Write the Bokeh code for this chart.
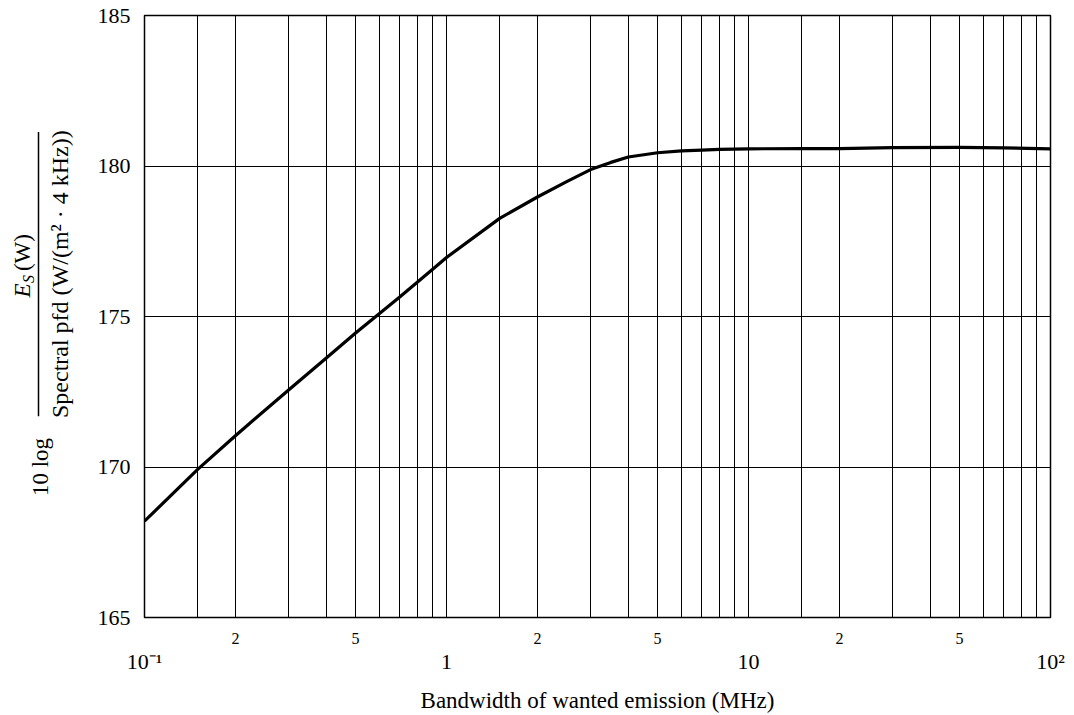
import math
from bokeh.plotting import figure
from bokeh.models import FixedTicker, Range1d, LogAxis
from bokeh.layouts import row
from bokeh.embed import file_html
from bokeh.resources import INLINE
from bokeh.core.properties import value

FONT = "Liberation Serif"

# ---- data ----
bandwidth_mhz = [0.1, 0.15, 0.2, 0.3, 0.4, 0.5, 0.6, 0.7, 0.8, 0.9, 1.0,
                 1.5, 2.0, 2.5, 3.0, 3.5, 4.0, 5.0, 6.0, 7.0, 8.0, 10.0,
                 15.0, 20.0, 30.0, 50.0, 70.0, 100.0]
es_over_pfd_db = [168.2, 169.92, 171.04, 172.56, 173.62, 174.45, 175.1, 175.65, 176.14, 176.57, 176.96,
                  178.26, 178.97, 179.48, 179.88, 180.12, 180.30, 180.44, 180.50, 180.53, 180.55, 180.57,
                  180.58, 180.58, 180.61, 180.62, 180.60, 180.57]

y_ticks = [165, 170, 175, 180, 185]
x_grid = [0.1, 0.15, 0.2, 0.3, 0.4, 0.5, 0.6, 0.7, 0.8, 0.9,
          1, 1.5, 2, 3, 4, 5, 6, 7, 8, 9,
          10, 15, 20, 30, 40, 50, 60, 70, 80, 90, 100]
minor_label_ticks = [0.2, 0.5, 2, 5, 20, 50]
minor_label_text = ["2", "5", "2", "5", "2", "5"]
major_ticks = [0.1, 1, 10, 100]
major_label_text = ["10\u207b\u00b9", "1", "10", "10\u00b2"]
x_title = "Bandwidth of wanted emission (MHz)"
y_title_prefix = "10 log"
y_num_main = "E"
y_num_sub = "S"
y_num_rest = "(W)"
y_den = "Spectral pfd (W/(m\u00b2 \u00b7 4 kHz))"

H = 715
TOP = 15
BOTTOM_BORDER = 96
LEFT_W = 88

# ---- main plot ----
p = figure(width=986, height=H, x_axis_type="log",
           x_range=Range1d(0.1, 100), y_range=Range1d(165, 185),
           output_backend="svg", toolbar_location=None,
           min_border_left=56, min_border_right=24, min_border_top=TOP,
           min_border_bottom=BOTTOM_BORDER)
p.background_fill_color = "white"
p.border_fill_color = "white"
p.outline_line_color = "black"
p.outline_line_width = 1.5

p.xgrid.ticker = FixedTicker(ticks=x_grid)
p.ygrid.ticker = FixedTicker(ticks=y_ticks)
p.grid.grid_line_color = "black"
p.grid.grid_line_width = 1
p.grid.grid_line_alpha = 1.0

p.yaxis.ticker = FixedTicker(ticks=y_ticks)
p.yaxis.axis_line_color = None
p.yaxis.major_tick_line_color = None
p.yaxis.minor_tick_line_color = None
p.yaxis.major_tick_out = 0
p.yaxis.major_tick_in = 0
p.yaxis.major_label_standoff = 14
p.yaxis.major_label_text_font = FONT
p.yaxis.major_label_text_font_size = "22px"
p.yaxis.major_label_text_color = "black"

# inner bottom axis: 2 / 5 sub-decade labels
p.xaxis.ticker = FixedTicker(ticks=minor_label_ticks)
p.xaxis.major_label_overrides = {t: s for t, s in zip(minor_label_ticks, minor_label_text)}
p.xaxis.axis_line_color = None
p.xaxis.major_tick_line_color = None
p.xaxis.minor_tick_line_color = None
p.xaxis.major_tick_out = 0
p.xaxis.major_tick_in = 0
p.xaxis.major_label_standoff = 15
p.xaxis.major_label_text_font = FONT
p.xaxis.major_label_text_font_size = "16px"
p.xaxis.major_label_text_color = "black"

# outer bottom axis: decade labels + title
ax2 = LogAxis(ticker=FixedTicker(ticks=major_ticks),
              major_label_overrides={t: s for t, s in zip(major_ticks, major_label_text)},
              axis_line_color=None, major_tick_line_color=None, minor_tick_line_color=None,
              major_tick_out=0, major_tick_in=0, major_label_standoff=2,
              major_label_text_font=FONT, major_label_text_font_size="22px",
              major_label_text_color="black",
              axis_label=x_title, axis_label_text_font=FONT, axis_label_text_font_size="23px",
              axis_label_text_font_style="normal", axis_label_text_color="black",
              axis_label_standoff=11)
p.add_layout(ax2, "below")

p.line(bandwidth_mhz, es_over_pfd_db, line_color="black", line_width=3.2, line_join="round")

# ---- y-axis title panel (rotated fraction), coordinates in page pixels ----
q = figure(width=LEFT_W, height=H, x_range=Range1d(0, LEFT_W), y_range=Range1d(-(H - BOTTOM_BORDER), -TOP),
           output_backend="svg", toolbar_location=None,
           x_axis_location=None, y_axis_location=None,
           min_border_left=0, min_border_right=0, min_border_top=TOP, min_border_bottom=BOTTOM_BORDER)
q.outline_line_color = None
q.background_fill_color = "white"
q.border_fill_color = "white"
q.xgrid.visible = False
q.ygrid.visible = False

ang = math.pi / 2
FS = "23px"
# "10 log"
q.text(x=[40], y=[-468], text=[y_title_prefix], angle=ang,
       text_align="center", text_baseline="middle",
       text_font=value(FONT), text_font_size=FS, text_color="black")
# fraction bar
q.segment(x0=[38], y0=[-132], x1=[38], y1=[-417], line_color="black", line_width=1.5)
# denominator
q.text(x=[59], y=[-274.5], text=[y_den], angle=ang,
       text_align="center", text_baseline="middle",
       text_font=value(FONT), text_font_size="24px", text_color="black")
# numerator  E_S (W)
e_w = 0.611 * 23
s_w = 0.5 * 16
num_start = 298
q.text(x=[21.5], y=[-num_start], text=[y_num_main], angle=ang,
       text_align="left", text_baseline="middle",
       text_font=value(FONT), text_font_size=FS, text_font_style="italic", text_color="black")
q.text(x=[27.5], y=[-(num_start - e_w - 0.5)], text=[y_num_sub], angle=ang,
       text_align="left", text_baseline="middle",
       text_font=value(FONT), text_font_size="16px", text_font_style="italic", text_color="black")
q.text(x=[21.5], y=[-(num_start - e_w - s_w - 4.5)], text=[y_num_rest], angle=ang,
       text_align="left", text_baseline="middle",
       text_font=value(FONT), text_font_size=FS, text_color="black")

layout = row(q, p)
open("out.html", "w").write(file_html(layout, INLINE))
